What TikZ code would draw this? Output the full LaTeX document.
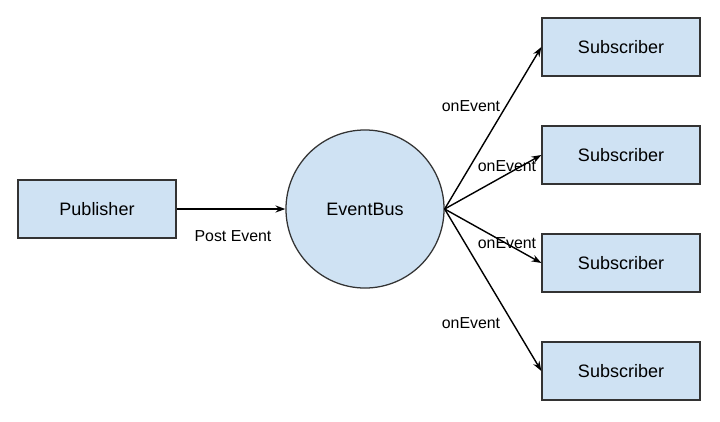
\documentclass[tikz,border=0pt]{standalone}
\usepackage{fontspec}
\setmainfont{Liberation Sans}
\usetikzlibrary{arrows.meta, positioning}
\definecolor{boxblue}{HTML}{CFE2F3}
\definecolor{edgegray}{HTML}{333333}

\begin{document}
\begin{tikzpicture}[x=0.025cm, y=-0.025cm, >={Stealth[length=7pt, width=5pt]},
    box/.style={draw=edgegray, fill=boxblue, line width=0.9pt,
      minimum width=3.95cm, minimum height=1.45cm, inner sep=0pt,
      font=\fontsize{12.8}{15}\selectfont},
    hub/.style={draw=edgegray, fill=boxblue, line width=0.9pt, circle,
      minimum size=3.95cm, inner sep=0pt, font=\fontsize{12.8}{15}\selectfont},
    lbl/.style={font=\fontsize{11.3}{13}\selectfont, inner sep=1pt},
    link/.style={->, line width=1pt, black}]
  \useasboundingbox (0,0) rectangle (720,421);

  % sender and bus
  \node[box] (pub) at (97,209) {Publisher};
  \node[hub] (bus) at (365,209) {EventBus};

  % receivers
  \node[box] (sub1) at (621,47) {Subscriber};
  \node[box] (sub2) at (621,155) {Subscriber};
  \node[box] (sub3) at (621,263) {Subscriber};
  \node[box] (sub4) at (621,371) {Subscriber};

  % connectors
  \draw[link] (pub) -- (bus);
  \foreach \s in {sub1, sub2, sub3, sub4}
    \draw[link] (bus.east) -- (\s.west);

  % labels
  \node[lbl] (post) at (233,236) {Post Event};
  \node[lbl] (on1) at (471,106) {onEvent};
  \node[lbl] (on2) at (507,166) {onEvent};
  \node[lbl] (on3) at (507,243) {onEvent};
  \node[lbl] (on4) at (471,323) {onEvent};
\end{tikzpicture}
\end{document}
